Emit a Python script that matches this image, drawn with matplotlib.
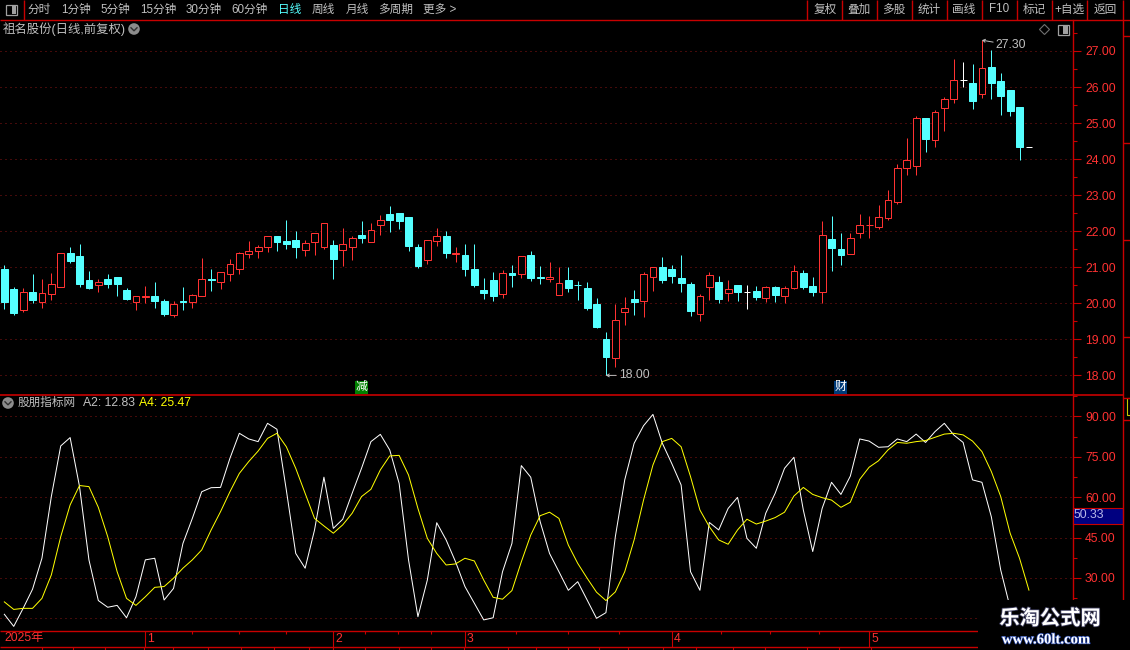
import matplotlib
matplotlib.use('Agg')
import matplotlib.pyplot as plt
import matplotlib.patheffects as pe
from matplotlib.patches import Rectangle, Circle, Polygon
import numpy as np

plt.rcParams['font.family'] = ['Liberation Sans', 'Noto Sans CJK SC', 'DejaVu Sans']

# K-line data, one value per trading day
opens = [20.95, 20.40, 19.82, 20.31, 20.05, 20.27, 20.44, 21.40, 21.31, 20.65,
         20.52, 20.68, 20.73, 20.37, 20.05, 20.18, 20.20, 20.06, 19.68, 20.06,
         20.05, 20.21, 20.67, 20.60, 20.80, 20.95, 21.38, 21.44, 21.55, 21.87,
         21.73, 21.76, 21.49, 21.69, 21.57, 21.62, 21.49, 21.55, 21.90, 21.69,
         22.16, 22.48, 22.51, 22.40, 21.56, 21.19, 21.74, 21.87, 21.38, 21.34,
         20.95, 20.37, 20.65, 20.27, 20.84, 20.82, 21.34, 20.72, 20.68, 20.23,
         20.65, 20.51, 20.43, 19.98, 19.01, 18.49, 19.77, 20.12, 20.07, 20.74,
         21.01, 20.95, 20.70, 20.54, 19.70, 20.46, 20.59, 20.29, 20.51, 20.31,
         20.34, 20.16, 20.45, 20.21, 20.43, 20.84, 20.48, 20.30, 21.79, 21.51,
         21.38, 21.96, 22.16, 22.13, 22.38, 22.80, 23.75, 23.80, 25.14, 24.52,
         25.41, 25.67, 26.19, 26.11, 25.82, 26.56, 26.18, 25.93, 25.45, 24.34]
closes = [20.04, 19.73, 20.31, 20.09, 20.28, 20.53, 21.39, 21.18, 20.54, 20.43,
          20.58, 20.54, 20.54, 20.12, 20.19, 20.19, 20.06, 19.70, 19.97, 20.05,
          20.22, 20.67, 20.66, 20.86, 21.08, 21.39, 21.44, 21.56, 21.86, 21.70,
          21.65, 21.56, 21.67, 21.94, 22.22, 21.23, 21.64, 21.81, 21.81, 22.03,
          22.31, 22.31, 22.29, 21.59, 21.04, 21.75, 21.86, 21.40, 21.39, 20.95,
          20.51, 20.29, 20.20, 20.83, 20.79, 21.31, 20.70, 20.71, 20.73, 20.56,
          20.43, 20.50, 19.87, 19.34, 18.51, 19.53, 19.86, 20.04, 20.81, 21.01,
          20.65, 20.76, 20.56, 19.79, 20.20, 20.79, 20.12, 20.40, 20.31, 20.31,
          20.18, 20.45, 20.23, 20.43, 20.89, 20.45, 20.31, 21.89, 21.54, 21.34,
          21.81, 22.17, 22.17, 22.39, 22.86, 23.75, 23.97, 25.14, 24.55, 25.31,
          25.67, 26.19, 26.19, 25.60, 26.53, 26.12, 25.76, 25.34, 24.34, 24.34]
highs = [21.06, 20.44, 20.42, 20.81, 20.68, 20.83, 21.39, 21.56, 21.65, 20.90,
         20.68, 20.81, 20.73, 20.43, 20.20, 20.48, 20.59, 20.12, 20.06, 20.45,
         20.26, 21.26, 20.95, 20.87, 21.23, 21.43, 21.73, 21.62, 21.86, 21.87,
         22.31, 22.01, 21.76, 21.95, 22.22, 21.76, 22.09, 21.87, 22.29, 22.23,
         22.45, 22.70, 22.51, 22.40, 21.65, 21.76, 22.09, 22.01, 21.56, 21.65,
         21.65, 20.70, 20.87, 20.93, 21.06, 21.31, 21.45, 21.04, 21.15, 21.00,
         21.00, 20.62, 20.59, 20.15, 19.20, 19.98, 20.18, 20.37, 20.87, 21.01,
         21.29, 21.06, 21.34, 20.59, 20.26, 20.87, 20.76, 20.65, 20.51, 20.51,
         20.48, 20.48, 20.48, 20.48, 21.06, 20.93, 20.73, 22.29, 22.43, 21.95,
         21.95, 22.48, 22.43, 22.73, 23.15, 23.87, 24.59, 25.20, 25.14, 25.36,
         25.73, 26.79, 26.70, 26.65, 27.30, 27.04, 26.40, 25.93, 25.45, 24.34]
lows = [19.84, 19.68, 19.77, 20.02, 19.88, 20.09, 20.44, 21.13, 20.45, 20.40,
        20.31, 20.43, 20.20, 20.09, 19.81, 20.00, 19.88, 19.65, 19.62, 19.81,
        19.87, 20.20, 20.34, 20.40, 20.62, 20.81, 21.26, 21.26, 21.43, 21.45,
        21.51, 21.26, 21.31, 21.34, 21.51, 20.68, 21.04, 21.20, 21.68, 21.69,
        21.90, 21.98, 22.06, 21.45, 20.98, 21.09, 21.59, 21.26, 21.15, 20.76,
        20.45, 20.12, 20.06, 20.15, 20.45, 20.70, 20.62, 20.54, 20.59, 20.23,
        20.31, 20.09, 19.81, 19.31, 18.00, 18.23, 19.40, 19.68, 19.62, 20.34,
        20.56, 20.56, 20.31, 19.65, 19.51, 20.09, 20.01, 20.06, 20.06, 19.84,
        20.09, 20.04, 20.04, 20.00, 20.40, 20.40, 20.20, 20.01, 20.90, 21.06,
        21.38, 21.81, 21.81, 22.06, 22.31, 22.76, 23.56, 23.56, 24.20, 24.34,
        24.79, 25.56, 26.01, 25.40, 25.70, 25.68, 25.23, 25.20, 23.98, 24.34]

# indicator lines
a2 = [16.5, 12.0, 18.7, 25.8, 37.3, 60.2, 79.0, 82.1, 63.9, 36.7,
      21.6, 19.1, 19.8, 15.2, 23.0, 36.7, 37.3, 21.8, 26.1, 42.8,
      52.1, 62.0, 63.5, 63.6, 74.4, 83.7, 81.6, 80.6, 87.4, 85.2,
      62.6, 39.1, 33.6, 47.8, 67.4, 48.4, 51.8, 61.4, 70.7, 80.6,
      83.3, 77.5, 65.1, 36.7, 15.6, 29.2, 50.5, 44.1, 36.0, 26.8,
      20.6, 14.4, 15.2, 32.3, 42.8, 71.7, 67.4, 50.9, 39.1, 32.3,
      25.4, 28.6, 21.8, 15.0, 17.1, 45.3, 66.4, 80.0, 86.5, 90.7,
      80.0, 72.5, 64.5, 32.3, 25.4, 50.6, 47.8, 55.8, 59.9, 44.7,
      41.0, 54.0, 61.4, 70.7, 74.8, 55.2, 39.8, 55.8, 65.5, 61.0,
      67.8, 81.6, 80.8, 78.5, 78.7, 81.6, 80.6, 83.4, 80.3, 84.3,
      87.4, 83.1, 80.3, 66.4, 65.5, 52.7, 32.9, 19.0, 14.0, 12.83]
a4 = [21.1, 18.3, 18.7, 18.7, 22.4, 31.1, 45.3, 57.1, 64.3, 63.9,
      56.2, 45.3, 32.3, 22.4, 19.8, 23.0, 26.5, 26.8, 29.9, 33.6,
      36.7, 40.4, 47.8, 54.6, 62.0, 68.8, 73.2, 77.1, 81.8, 83.7,
      78.7, 70.7, 61.4, 52.1, 49.3, 46.6, 49.7, 54.0, 60.2, 62.9,
      70.1, 75.3, 75.5, 68.2, 55.8, 44.7, 39.1, 34.8, 35.2, 37.3,
      36.3, 29.2, 22.8, 22.1, 25.3, 36.0, 45.9, 53.1, 54.4, 52.1,
      42.2, 35.4, 29.9, 24.7, 21.6, 24.8, 32.3, 44.1, 58.9, 71.9,
      80.6, 81.8, 78.7, 67.6, 55.2, 49.0, 44.1, 42.5, 47.8, 51.8,
      50.0, 51.1, 52.4, 54.4, 60.4, 63.6, 61.0, 59.8, 58.9, 56.2,
      58.1, 66.6, 71.1, 73.5, 77.5, 80.3, 80.0, 80.6, 81.0, 82.2,
      83.4, 83.7, 83.1, 80.8, 76.9, 69.5, 60.2, 46.6, 37.3, 25.47]

price_ticks = [18, 19, 20, 21, 22, 23, 24, 25, 26, 27]
ind_ticks = [15, 30, 45, 60, 75, 90]
ind_labels = ['', '30.00', '45.00', '60.00', '75.00', '90.00']  # 15.00 sits under the watermark
month_pos = [15, 35, 49, 71, 92]
month_labels = ['1', '2', '3', '4', '5']
week_pos = [20, 25, 30, 38.4, 41.9, 45.4, 54.4, 60, 65.4, 76.2, 81.5, 86.7]
left_menu = ['分时', '1分钟', '5分钟', '15分钟', '30分钟', '60分钟', '日线', '周线', '月线', '多周期', '更多 >']
right_menu = ['复权', '叠加', '多股', '统计', '画线', 'F10', '标记', '+自选', '返回']

W, H = 1130, 650
RED = '#c80000'
LABEL_RED = '#ff3232'
CANDLE_RED = '#ff3232'
CYAN = '#55ffff'
GREY = '#c0c0c0'
GRID = '#8a1414'
FS = 8.8
FS_CN = 8.4


def px_axes(left, top, right, bottom, **kw):
    ax = fig.add_axes([left / W, 1 - bottom / H, (right - left) / W, (bottom - top) / H], **kw)
    ax.set_facecolor('black')
    return ax


def style_axis(ax, ticks, labels, minor):
    for s in ['top', 'left', 'bottom']:
        ax.spines[s].set_visible(False)
    ax.spines['right'].set_color(RED)
    ax.spines['right'].set_linewidth(1.0)
    ax.yaxis.tick_right()
    ax.set_yticks(ticks)
    ax.set_yticklabels(labels, color=LABEL_RED, fontsize=FS)
    ax.set_yticks(minor, minor=True)
    ax.tick_params(axis='y', which='major', length=6, width=0.8, color=RED, pad=3)
    ax.tick_params(axis='y', which='minor', length=3, width=0.8, color=RED)
    ax.set_xticks([])
    ax.set_axisbelow(True)
    ax.grid(axis='y', which='major', color=GRID, linewidth=0.72, linestyle=(0, (1, 4)))


fig = plt.figure(figsize=(W / 100, H / 100), dpi=100, facecolor='black')

# x scale: one day is 9.4 px, first candle at 4.33 px
x = np.arange(len(opens))
x_lim = (-4.33 / 9.4, (1072.5 - 4.33) / 9.4)
body_w = 6.8 / 9.4

# price pane
ax1 = px_axes(0, 20, 1072.5, 394.5)
ax1.set_xlim(x_lim)
ax1.set_ylim(17.47, 27.86)
style_axis(ax1, price_ticks, ['%.2f' % t for t in price_ticks], np.array(price_ticks) + 0.5)

o = np.array(opens)
c = np.array(closes)
colors = np.where(c > o, CANDLE_RED, np.where(c < o, CYAN, '#ffffff'))
ax1.vlines(x, lows, highs, colors=colors, linewidth=0.72, zorder=2)
faces = np.where(c > o, 'black', colors)
ax1.bar(x, np.abs(c - o), bottom=np.minimum(o, c), width=body_w, color=faces,
        edgecolor=colors, linewidth=0.72, zorder=3)

hi = int(np.argmax(highs))
lo = int(np.argmin(lows))
ax1.annotate('27.30', xy=(hi, highs[hi]), xytext=(14, -5), textcoords='offset pixels',
             color=GREY, fontsize=FS, va='center',
             arrowprops=dict(arrowstyle='->,head_length=0.2,head_width=0.12', color=GREY, lw=0.7,
                             shrinkA=0, shrinkB=0))
ax1.annotate('18.00', xy=(lo, lows[lo]), xytext=(13, 0), textcoords='offset pixels',
             color=GREY, fontsize=FS, va='center',
             arrowprops=dict(arrowstyle='->,head_length=0.2,head_width=0.12', color=GREY, lw=0.7,
                             shrinkA=0, shrinkB=0))

# event flags at the bottom of the pane
ax1.text(38, 17.67, '减', color='white', fontsize=8.6, ha='center', va='center',
         bbox=dict(boxstyle='square,pad=0.05', fc='#008000', ec='none'))
ax1.text(89, 17.67, '财', color='white', fontsize=8.6, ha='center', va='center',
         bbox=dict(boxstyle='square,pad=0.05', fc='#003a78', ec='none'))

# indicator pane
ax2 = px_axes(0, 394.5, 1072.5, 630)
ax2.set_xlim(x_lim)
ax2.set_ylim(10.66, 98.1)
style_axis(ax2, ind_ticks, ind_labels, np.array(ind_ticks) + 7.5)
ax2.plot(x, a2, color='white', linewidth=0.72, zorder=3)
ax2.plot(x, a4, color='#ffff00', linewidth=0.72, zorder=4)

# time axis
ax3 = px_axes(0, 630.5, 1072.5, 646.5)
ax3.set_xlim(x_lim)
ax3.set_ylim(0, 1)
ax3.axis('off')
ax3.vlines(month_pos, 0, 1, color=RED, linewidth=0.8)
ax3.vlines(week_pos, 0.8, 1, color=RED, linewidth=0.8)
for m, lab in zip(month_pos, month_labels):
    ax3.annotate(lab, xy=(m, 0.5), xytext=(2, 0), textcoords='offset pixels',
                 color=LABEL_RED, fontsize=FS, va='center')
ax3.text(0.05, 0.5, '2025年', color=LABEL_RED, fontsize=FS, va='center')

# overlay in pixel coordinates: frame, menus, legend text, watermark
ov = fig.add_axes([0, 0, 1, 1], zorder=10)
ov.set_xlim(0, W)
ov.set_ylim(H, 0)
ov.axis('off')
ov.patch.set_alpha(0)

ov.hlines([19.5], 0, 1130, color=RED, linewidth=1.0)
ov.hlines([394.5], 0, 1123, color=RED, linewidth=1.2)
ov.hlines([630.5, 646.5], 0, 978, color=RED, linewidth=1.0)
ov.vlines([23.5], 0, 19.5, color=RED, linewidth=1.0)
ov.vlines([1122.5], 0, 650, color=RED, linewidth=1.0)
ov.hlines([35.5, 142.5, 239.5, 336.5, 397.5, 419.5], 1122.5, 1130, color=RED, linewidth=1.0)
ov.add_patch(Rectangle((1127, 398), 4, 17, fc='none', ec='#c8c800', lw=0.8))

# small ticks of the cut-off row under the time axis
ov.vlines([42, 73, 105, 144, 173, 208, 241, 274, 309, 333, 365, 399, 431, 464, 508,
           536, 568, 599, 628, 663, 696, 733, 765, 807, 839, 871], 646.5, 650, color=RED, linewidth=0.8)

# menu bar
ov.add_patch(Rectangle((5.5, 4.5), 11, 10, fc='none', ec='#a0a0a0', lw=0.9))
ov.add_patch(Rectangle((11.5, 5), 4.5, 9, fc='#a0a0a0', ec='none'))
left_x = [39.5, 76, 115.5, 158, 204, 250, 289.5, 323.5, 357.5, 396, 440]
for name, lx in zip(left_menu, left_x):
    ov.text(lx, 9.5, name, color=CYAN if name == '日线' else GREY, fontsize=FS_CN, ha='center', va='center')

ov.vlines([807, 842, 876.5, 911.5, 947, 981.5, 1016.5, 1052, 1086.5], 0, 19.5, color=RED, linewidth=1.0)
right_x = [825, 859, 894, 929, 964, 999, 1034, 1069, 1105]
for name, rx in zip(right_menu, right_x):
    ov.text(rx, 9.5, name, color=GREY, fontsize=FS_CN, ha='center', va='center')

# pane titles
ov.text(3, 29, '祖名股份(日线,前复权)', color=GREY, fontsize=8.9, va='center')
for cx, cy in [(134, 29), (8, 403)]:
    ov.add_patch(Circle((cx, cy), 5.8, fc='#8c8c8c', ec='none'))
    ov.plot([cx - 3, cx, cx + 3], [cy - 1.2, cy + 1.8, cy - 1.2], color='#303030', lw=1.0)
ov.add_patch(Polygon([(1044.5, 24.5), (1049.5, 29.5), (1044.5, 34.5), (1039.5, 29.5)], fc='none', ec='#707070', lw=0.8))
ov.add_patch(Rectangle((1057.5, 25), 11, 9.5, fc='none', ec='#a0a0a0', lw=0.9))
ov.add_patch(Rectangle((1063, 25.5), 5, 8.5, fc='#a0a0a0', ec='none'))

ov.text(18, 403, '股朋指标网', color=GREY, fontsize=FS_CN, va='center')
ov.text(83, 403, 'A2: %.2f' % a2[-1], color=GREY, fontsize=FS, va='center')
ov.text(139, 403, 'A4: %.2f' % a4[-1], color='#ffff00', fontsize=FS, va='center')

# current value box on the right axis
ov.add_patch(Rectangle((1073, 507.5), 50, 16, fc='#000080', ec=RED, lw=0.8))
ov.text(1074, 515.5, '50.33', color='#b8b8e8', fontsize=FS, va='center')

# watermark covers the lower right corner
ov.add_patch(Rectangle((978, 600), 152, 50, fc='black', ec='none', zorder=20))
ov.text(1050, 619, '乐淘公式网', color='white', fontsize=14.6, fontweight='bold', ha='center', va='center', zorder=21,
        path_effects=[pe.withStroke(linewidth=1.2, foreground='#404060')])
ov.text(1046, 640, 'www.60lt.com', color='white', fontsize=10.6, fontweight='bold', family='Liberation Serif',
        ha='center', va='center', zorder=21, path_effects=[pe.withStroke(linewidth=1.0, foreground='#2040a0')])

fig.savefig('out.png', dpi=100, facecolor='black')
